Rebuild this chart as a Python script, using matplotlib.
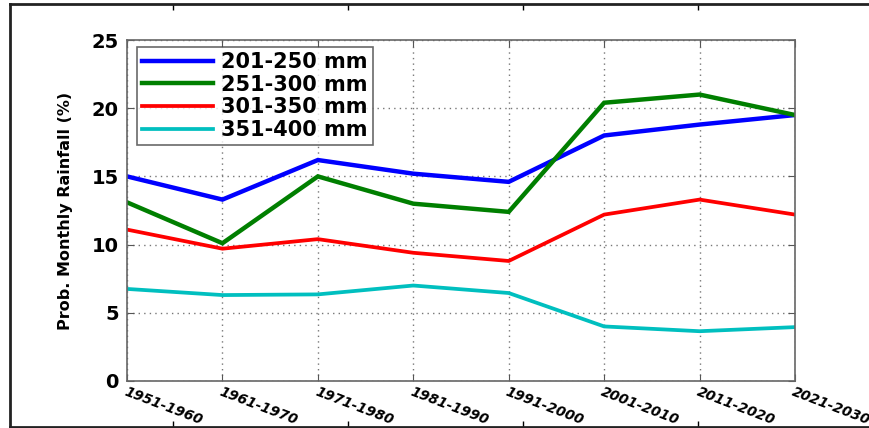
import matplotlib
matplotlib.use("Agg")
import matplotlib.pyplot as plt

decades = ["1951-1960", "1961-1970", "1971-1980", "1981-1990",
           "1991-2000", "2001-2010", "2011-2020", "2021-2030"]
r201_250 = [15.0, 13.3, 16.2, 15.2, 14.6, 18.0, 18.8, 19.5]
r251_300 = [13.1, 10.1, 15.0, 13.0, 12.4, 20.4, 21.0, 19.5]
r301_350 = [11.1, 9.7, 10.4, 9.4, 8.8, 12.2, 13.3, 12.2]
r351_400 = [6.75, 6.3, 6.35, 7.0, 6.45, 4.0, 3.65, 3.95]
series = [("201-250 mm", r201_250, "#0000ff", 3.2),
          ("251-300 mm", r251_300, "#007f00", 3.2),
          ("301-350 mm", r301_350, "#ff0000", 2.7),
          ("351-400 mm", r351_400, "#00bfbf", 2.7)]
yticks = [0, 5, 10, 15, 20, 25]

W, H = 869, 428
fig = plt.figure(figsize=(W / 100, H / 100), dpi=100)

# outer frame (its right edge runs past the figure)
frame = fig.add_axes([10 / W, 1.5 / H, 1.05, (425.5 - 3) / H], zorder=0)
frame.set_xlim(10, 10 + 1.05 * W)
frame.set_ylim(0, 1)
frame.set_xticks([173, 348, 523, 698])
frame.set_yticks([])
frame.tick_params(axis="x", direction="in", top=True, bottom=True,
                  labelbottom=False, length=4, width=1)
for s in frame.spines.values():
    s.set_linewidth(2.0)
    s.set_color("#222222")
frame.patch.set_alpha(0)

ax = fig.add_axes([127 / W, 1 - 381 / H, (795 - 127) / W, (381 - 40) / H], zorder=2)
x = list(range(len(decades)))
for label, vals, color, lw in series:
    ax.plot(x, vals, color=color, lw=lw, label=label, solid_joinstyle="miter")

ax.set_xlim(0, len(decades) - 1)
ax.set_ylim(0, 25)
ax.set_yticks(yticks)
ax.set_yticklabels([str(v) for v in yticks], fontsize=14, fontweight="bold")
ax.set_xticks(x)
ax.set_xticklabels(decades, fontsize=10, fontweight="bold", fontstyle="italic",
                   rotation=-21, ha="left", va="top", rotation_mode="anchor")
ax.tick_params(axis="y", direction="in", left=True, right=True, length=5,
               color="#555555", pad=6)
ax.tick_params(axis="x", direction="in", top=True, bottom=True, length=5,
               color="#555555", pad=3)
for lbl in ax.get_xticklabels():
    lbl.set_clip_on(False)
ax.grid(True, linestyle=(0, (1, 3)), color="#777777", lw=1.0)
for s in ax.spines.values():
    s.set_color("#666666")
    s.set_linewidth(1.2)
ax.set_ylabel("Prob. Monthly Rainfall (%)", fontsize=11.5, fontweight="bold",
              labelpad=13)

leg = ax.legend(loc="upper left", bbox_to_anchor=(0.015, 0.98), fancybox=False,
                edgecolor="#444444", prop={"weight": "bold", "size": 15},
                handlelength=3.4, borderpad=0.25, labelspacing=0.13,
                handletextpad=0.4, borderaxespad=0.0)
leg.get_frame().set_linewidth(1.2)

fig.savefig("out.png", dpi=100)
